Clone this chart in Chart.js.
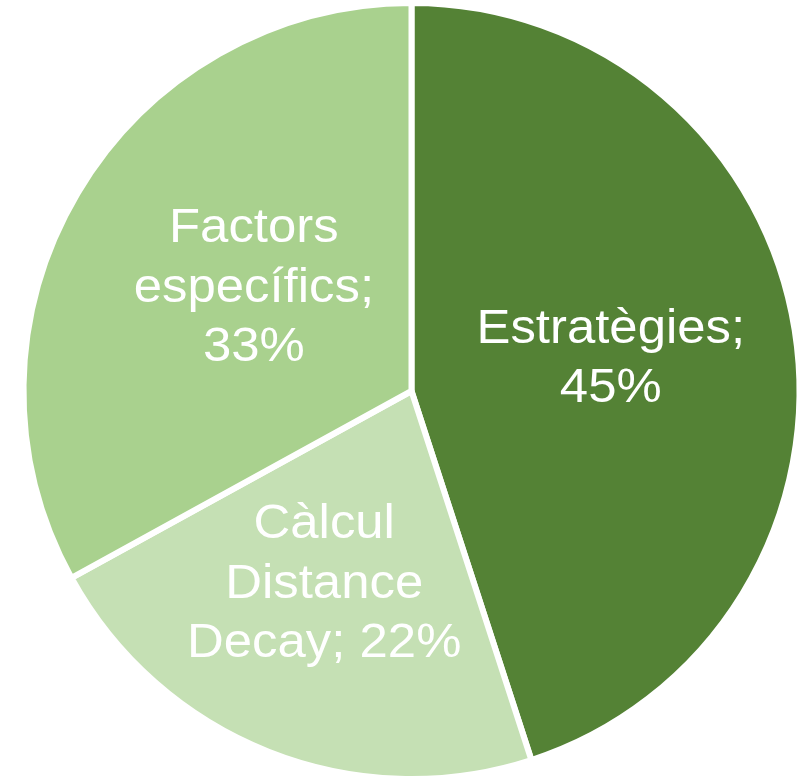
<!DOCTYPE html>
<html>
<head>
<meta charset="utf-8">
<script src="https://cdn.jsdelivr.net/npm/chart.js@4"></script>
<style>
  html, body { margin: 0; padding: 0; background: #fff; overflow: hidden; }
  #wrap { width: 810px; height: 782px; }
</style>
</head>
<body>
<div id="wrap"><canvas id="pie"></canvas></div>
<script>
const categories = ['Estratègies', 'Càlcul Distance Decay', 'Factors específics'];
const values = [45, 22, 33];
// how each data label is broken into lines
const labelLines = [
  ['Estratègies;', '45%'],
  ['Càlcul', 'Distance', 'Decay; 22%'],
  ['Factors', 'específics;', '33%']
];
const colors = ['#548235', '#C5E0B4', '#A9D18E'];

const pieLabels = {
  id: 'pieLabels',
  afterDatasetsDraw(chart, args, opts) {
    const ctx = chart.ctx;
    const meta = chart.getDatasetMeta(0);
    ctx.save();
    ctx.fillStyle = '#fff';
    ctx.font = '48px "Liberation Sans", Arial, sans-serif';
    ctx.textAlign = 'center';
    ctx.textBaseline = 'middle';
    meta.data.forEach((arc, i) => {
      const p = arc.getProps(['x', 'y', 'startAngle', 'endAngle', 'outerRadius'], true);
      const mid = (p.startAngle + p.endAngle) / 2;
      const r = p.outerRadius * 0.52;
      const cx = p.x + Math.cos(mid) * r + opts.nudge[i][0];
      const cy = p.y + Math.sin(mid) * r + opts.nudge[i][1];
      const lines = labelLines[i];
      const lh = 59.5;
      lines.forEach((t, j) => {
        ctx.save();
        ctx.translate(cx, cy + (j - (lines.length - 1) / 2) * lh);
        ctx.scale(1.06, 1);   // text in the original is a touch wider
        ctx.fillText(t, 0, 0);
        ctx.restore();
      });
    });
    ctx.restore();
  }
};

new Chart(document.getElementById('pie'), {
  type: 'pie',
  data: {
    labels: categories,
    datasets: [{
      data: values,
      backgroundColor: colors,
      borderColor: '#fff',
      borderWidth: 6
    }]
  },
  options: {
    responsive: true,
    maintainAspectRatio: false,
    animation: false,
    devicePixelRatio: 1,
    layout: { padding: { left: 20, right: 7, top: 0, bottom: 0 } },
    plugins: {
      legend: { display: false },
      tooltip: { enabled: false },
      pieLabels: { nudge: [[0, 0], [-13, 6], [16, 0]] }
    }
  },
  plugins: [pieLabels]
});
</script>
</body>
</html>
